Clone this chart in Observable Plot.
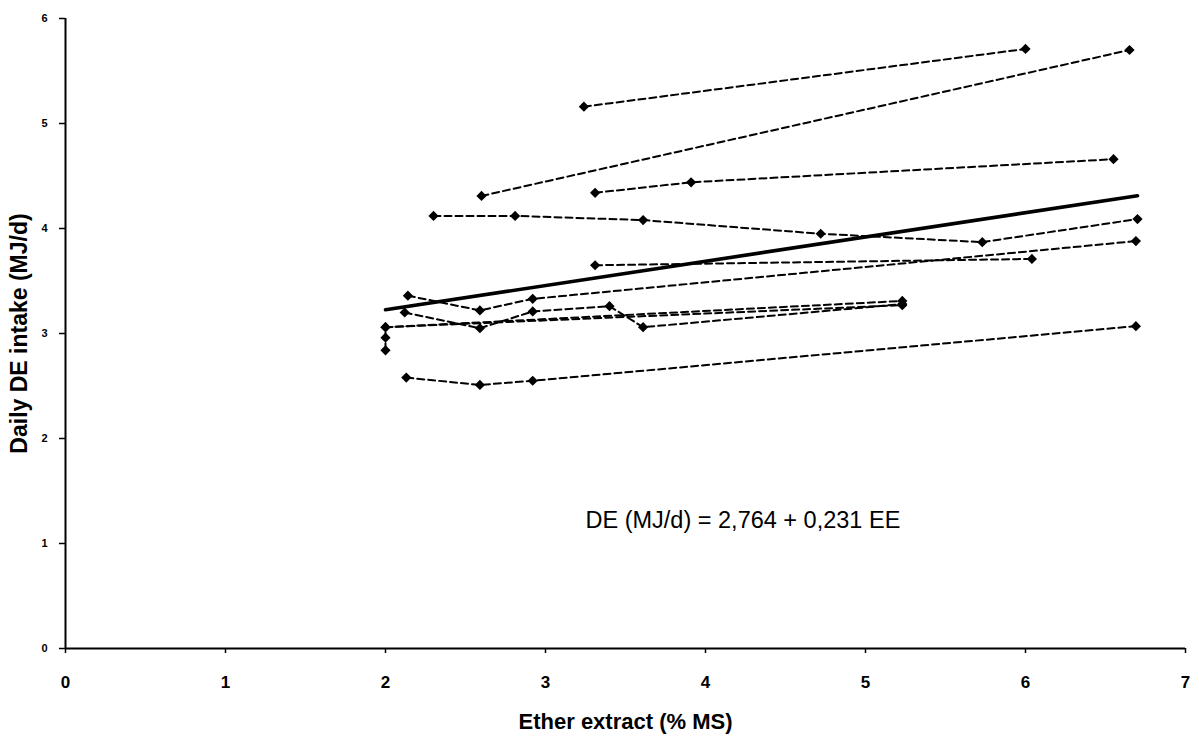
<!DOCTYPE html>
<html>
<head>
<meta charset="utf-8">
<script src="https://cdn.jsdelivr.net/npm/d3@7"></script>
<script src="https://cdn.jsdelivr.net/npm/@observablehq/plot@0.6"></script>
<style>
  html, body { margin: 0; padding: 0; background: #fff; }
  #chart { width: 1199px; height: 739px; }
</style>
</head>
<body>
<div id="chart"></div>
<script>
// ---- data ----
const xTicks = [0, 1, 2, 3, 4, 5, 6, 7];
const yTicks = [0, 1, 2, 3, 4, 5, 6];

const xA = [3.24, 6.00];               const yA = [5.16, 5.71];
const xB = [2.60, 6.65];               const yB = [4.31, 5.70];
const xC = [3.31, 3.91, 6.55];         const yC = [4.34, 4.44, 4.66];
const xD = [2.30, 2.81, 3.61, 4.72, 5.73, 6.70];
const yD = [4.12, 4.12, 4.08, 3.95, 3.87, 4.09];
const xE = [2.14, 2.59, 2.92, 6.69];   const yE = [3.36, 3.22, 3.33, 3.88];
const xF = [2.12, 2.59, 2.92, 3.40, 3.61, 5.23];
const yF = [3.20, 3.05, 3.21, 3.26, 3.06, 3.28];
const xG = [2.13, 2.59, 2.92, 6.69];   const yG = [2.58, 2.51, 2.55, 3.07];
const xH = [3.31, 6.04];               const yH = [3.65, 3.71];
const xI = [2.00, 2.00, 2.00, 5.23];   const yI = [2.84, 2.96, 3.06, 3.31];
const xJ = [2.00, 5.23];               const yJ = [3.06, 3.27];

const seriesNames = ["A", "B", "C", "D", "E", "F", "G", "H", "I", "J"];
const seriesX = [xA, xB, xC, xD, xE, xF, xG, xH, xI, xJ];
const seriesY = [yA, yB, yC, yD, yE, yF, yG, yH, yI, yJ];

// regression DE = 2.764 + 0.231 EE
const regIntercept = 2.764;
const regSlope = 0.231;
const regRangeX = [2.0, 6.7];
const equationText = "DE (MJ/d) = 2,764 + 0,231 EE";
const xLabel = "Ether extract (% MS)";
const yLabel = "Daily DE intake (MJ/d)";

// ---- build table ----
const rows = [];
seriesNames.forEach((s, i) => {
  seriesX[i].forEach((x, j) => rows.push({ series: s, x, y: seriesY[i][j] }));
});
const regRows = regRangeX.map(x => ({ x, y: regIntercept + regSlope * x }));

const chart = Plot.plot({
  width: 1199,
  height: 739,
  marginLeft: 65,
  marginRight: 14,
  marginTop: 18,
  marginBottom: 91,
  style: { fontFamily: "'Liberation Sans', Arial, sans-serif", background: "#fff", color: "#000" },
  x: { domain: [0, 7], axis: null },
  y: { domain: [0, 6], axis: null },
  marks: [
    // tick marks only (labels drawn below as text marks)
    Plot.axisY({ ticks: yTicks, tickSize: 6, tickFormat: () => "", label: null, strokeWidth: 1.5 }),
    Plot.axisX({ ticks: xTicks, tickSize: 5, tickFormat: () => "", label: null, strokeWidth: 1.5 }),
    Plot.text(yTicks, { y: d => d, frameAnchor: "left", dx: -18, textAnchor: "end", text: d => String(d), fontSize: 11, fontWeight: "bold", fill: "#000", ariaLabel: "ytl" }),
    Plot.text(xTicks, { x: d => d, frameAnchor: "bottom", lineAnchor: "top", dy: 27, text: d => String(d), fontSize: 17, fontWeight: "bold", fill: "#000", ariaLabel: "xtl" }),
    Plot.ruleX([0], { stroke: "#000", strokeWidth: 2 }),
    Plot.ruleY([0], { stroke: "#000", strokeWidth: 2 }),
    Plot.line(rows, { x: "x", y: "y", z: "series", stroke: "#000", strokeWidth: 2, strokeDasharray: "7,4" }),
    Plot.line(regRows, { x: "x", y: "y", stroke: "#000", strokeWidth: 3.6 }),
    Plot.dot(rows, { x: "x", y: "y", symbol: "diamond2", r: 4.6, fill: "#000", stroke: "none" }),
    Plot.text([equationText], { x: () => 3.25, y: () => 1.22, text: d => d, textAnchor: "start", fontSize: 23.5, fill: "#000" }),
    Plot.text([xLabel], { frameAnchor: "bottom", dy: 80, text: d => d, fontSize: 22, fontWeight: "bold", fill: "#000", ariaLabel: "x-title" }),
    Plot.text([yLabel], { frameAnchor: "left", dx: -46, rotate: -90, textAnchor: "middle", text: d => d, fontSize: 23, fontWeight: "bold", fill: "#000", ariaLabel: "y-title" })
  ]
});
document.getElementById("chart").appendChild(chart);

// stretch texts vertically (screen space) like the scanned original, about each text's own centre
function stretchText(t, sx, sy) {
  const wrap = document.createElementNS("http://www.w3.org/2000/svg", "g");
  t.parentNode.insertBefore(wrap, t);
  wrap.appendChild(t);
  const bb = wrap.getBBox();
  const cx = bb.x + bb.width / 2, cy = bb.y + bb.height / 2;
  wrap.setAttribute("transform", `translate(${cx},${cy}) scale(${sx},${sy}) translate(${-cx},${-cy})`);
}
function textsOf(label) {
  const out = [];
  chart.querySelectorAll("g[aria-label]").forEach(g => {
    if (g.getAttribute("aria-label") === label) g.querySelectorAll("text").forEach(t => out.push(t));
  });
  return out;
}
textsOf("xtl").forEach(t => stretchText(t, 1, 1.35));
textsOf("ytl").forEach(t => stretchText(t, 1, 1.3));
textsOf("x-title").forEach(t => stretchText(t, 1, 1.3));
textsOf("y-title").forEach(t => stretchText(t, 1, 1.4));
</script>
</body>
</html>
